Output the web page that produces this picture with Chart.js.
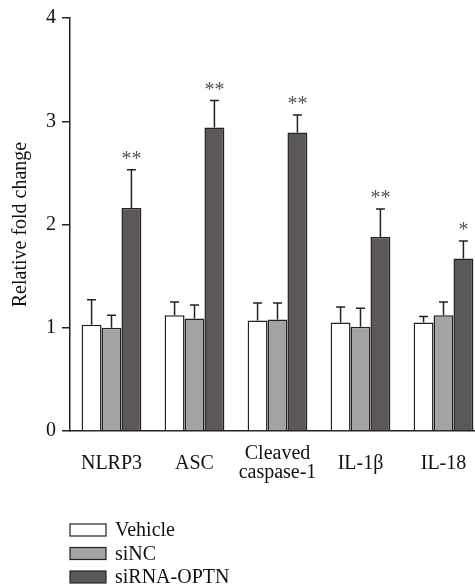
<!DOCTYPE html>
<html>
<head>
<meta charset="utf-8">
<script src="https://cdn.jsdelivr.net/npm/chart.js@4"></script>
<style>
  html, body { margin: 0; padding: 0; background: #fff; overflow: hidden; }
  #wrap { width: 490px; height: 586px; }
</style>
</head>
<body>
<div id="wrap"><canvas id="foldChart" width="490" height="586"></canvas></div>
<script>
// Data
const categories = ['NLRP3', 'ASC', ['Cleaved', 'caspase-1'], 'IL-1β', 'IL-18'];
const seriesNames = ['Vehicle', 'siNC', 'siRNA-OPTN'];
const vehicle = [1.03, 1.12, 1.07, 1.05, 1.05];
const siNC = [1.00, 1.09, 1.08, 1.01, 1.12];
const siOPTN = [2.16, 2.94, 2.89, 1.88, 1.67];
const vehicleErr = [0.24, 0.13, 0.17, 0.15, 0.06];
const siNCErr = [0.12, 0.13, 0.16, 0.18, 0.13];
const siOPTNErr = [0.37, 0.26, 0.17, 0.27, 0.17];
const stars = ['**', '**', '**', '**', '*'];
const yTicks = [0, 1, 2, 3, 4];

const colors = ['#ffffff', '#a4a3a3', '#5c5857'];
const errs = [vehicleErr, siNCErr, siOPTNErr];
const FONT = '"Liberation Serif", "DejaVu Serif", serif';

// Upper error bars and significance stars
const extras = {
  id: 'extras',
  afterDatasetsDraw(chart) {
    const ctx = chart.ctx;
    const y = chart.scales.y;
    ctx.save();
    ctx.strokeStyle = '#222';
    ctx.lineWidth = 1.5;
    chart.data.datasets.forEach((ds, di) => {
      const meta = chart.getDatasetMeta(di);
      meta.data.forEach((bar, i) => {
        const top = y.getPixelForValue(ds.data[i] + errs[di][i]);
        ctx.beginPath();
        ctx.moveTo(bar.x, bar.y);
        ctx.lineTo(bar.x, top);
        ctx.moveTo(bar.x - 4.5, top);
        ctx.lineTo(bar.x + 4.5, top);
        ctx.stroke();
        if (di === 2) {
          ctx.fillStyle = '#555';
          ctx.font = '20px ' + FONT;
          ctx.textAlign = 'center';
          ctx.textBaseline = 'alphabetic';
          ctx.fillText(stars[i], bar.x, top - 5);
        }
      });
    });
    ctx.restore();
  },
  afterDraw(chart) {
    // vertical legend below the axis
    const ctx = chart.ctx;
    ctx.save();
    ctx.font = '20px ' + FONT;
    ctx.textBaseline = 'middle';
    ctx.textAlign = 'left';
    seriesNames.forEach((name, i) => {
      const cy = 530 + i * 23.5;
      ctx.fillStyle = colors[i];
      ctx.fillRect(70, cy - 6, 36, 12);
      ctx.strokeStyle = '#222';
      ctx.lineWidth = 1.2;
      ctx.strokeRect(70, cy - 6, 36, 12);
      ctx.fillStyle = '#111';
      ctx.fillText(name, 115, cy + 1);
    });
    ctx.restore();
  }
};

new Chart(document.getElementById('foldChart'), {
  type: 'bar',
  data: {
    labels: categories,
    datasets: [vehicle, siNC, siOPTN].map((d, i) => ({
      label: seriesNames[i],
      data: d,
      backgroundColor: colors[i],
      borderColor: '#222',
      borderWidth: 1.5,
      borderSkipped: 'bottom',
      categoryPercentage: 0.72,
      barPercentage: 1.0
    }))
  },
  options: {
    responsive: false,
    animation: false,
    layout: { padding: { top: 17, right: 5, left: 0, bottom: 0 } },
    plugins: {
      legend: { display: false },
      tooltip: { enabled: false }
    },
    scales: {
      x: {
        grid: { display: false },
        border: { display: true, color: '#222', width: 1.5 },
        ticks: {
          color: '#111',
          font: { family: FONT, size: 20, lineHeight: 0.95 },
          padding: 15,
          crossAlign: 'center',
          maxRotation: 0,
          autoSkip: false
        },
        afterFit(scale) { scale.height = 155; }
      },
      y: {
        min: 0,
        max: 4,
        afterBuildTicks(scale) { scale.ticks = yTicks.map(v => ({ value: v })); },
        grid: { drawOnChartArea: false, drawTicks: true, tickLength: 8, color: '#222', lineWidth: 1.5 },
        border: { display: true, color: '#222', width: 1.5 },
        ticks: {
          color: '#111',
          font: { family: FONT, size: 20 },
          padding: 6
        },
        title: {
          display: true,
          text: 'Relative fold change',
          color: '#111',
          font: { family: FONT, size: 20 },
          padding: { top: 9, bottom: 0 }
        },
        afterFit(scale) { scale.width = 70; }
      }
    }
  },
  plugins: [extras]
});
</script>
</body>
</html>
